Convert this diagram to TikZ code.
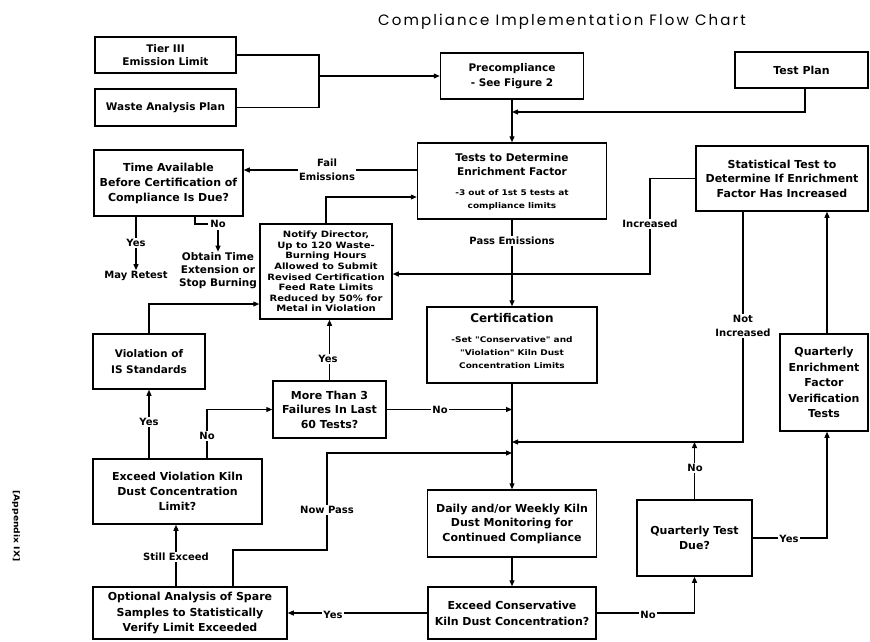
\documentclass[tikz,border=0pt]{standalone}
\usepackage{fontspec}
\setmainfont{DejaVu Sans}
\newfontfamily\smf{DejaVu Sans}[FakeStretch=1.15]
\newfontfamily\ttl{Poppins}[LetterSpace=14]
\usetikzlibrary{arrows.meta}
\tikzset{
  box/.style={draw, line width=1.5pt, rectangle, inner sep=1pt, align=center,
    font=\bfseries\fontsize{11}{14.5}\selectfont},
  conn/.style={line width=1.2pt},
  arr/.style={conn, -{Triangle[length=6pt,width=5pt]}},
  lbl/.style={fill=white, inner sep=1.5pt, align=center, font=\bfseries\fontsize{10}{13.5}\selectfont},
  txt/.style={inner sep=1pt, align=center, font=\bfseries\fontsize{10.5}{13}\selectfont},
  smalltxt/.style={inner sep=0pt, align=center, font=\smf\bfseries\fontsize{7.8}{13}\selectfont},
}
\begin{document}
\begin{tikzpicture}[x=1pt,y=-1pt]
\useasboundingbox (0,0) rectangle (870,641);
% title
\node[font=\ttl\fontsize{15}{18}\selectfont] (title) at (562,22) {Compliance Implementation Flow Chart};
\node[rotate=-90, font=\smf\bfseries\fontsize{8}{10}\selectfont] (appx) at (16,526) {[Appendix IX]};
% boxes
\node[box, minimum width=141pt, minimum height=36pt, font=\bfseries\fontsize{10.5}{12.5}\selectfont] (tier) at (165.5,55) {Tier III\\Emission Limit};
\node[box, minimum width=141pt, minimum height=37pt, font=\bfseries\fontsize{10.5}{12.5}\selectfont] (waste) at (165.5,107.5) {Waste Analysis Plan};
\node[box, minimum width=143pt, minimum height=46pt, font=\bfseries\fontsize{10.5}{15}\selectfont] (pre) at (512,76) {Precompliance\\- See Figure 2};
\node[box, minimum width=133pt, minimum height=36pt] (testplan) at (801.5,70) {Test Plan};
\node[box, minimum width=189pt, minimum height=76pt] (tests) at (512,181) {};
\node[box, minimum width=172pt, minimum height=65pt] (stat) at (782,178.5) {Statistical Test to\\Determine If Enrichment\\Factor Has Increased};
\node[box, minimum width=149pt, minimum height=66pt, font=\bfseries\fontsize{11}{15}\selectfont] (time) at (168.5,183) {Time Available\\Before Certification of\\Compliance Is Due?};
\node[box, minimum width=132pt, minimum height=95pt, font=\smf\bfseries\fontsize{8.7}{10.6}\selectfont] (notify) at (326,271.5) {Notify Director,\\Up to 120 Waste-\\Burning Hours\\Allowed to Submit\\Revised Certification\\Feed Rate Limits\\Reduced by 50\% for\\Metal in Violation};
\node[box, minimum width=170pt, minimum height=76pt] (cert) at (512,345) {};
\node[box, minimum width=112pt, minimum height=55pt, font=\bfseries\fontsize{10.5}{16}\selectfont] (viol) at (149,361.5) {Violation of\\IS Standards};
\node[box, minimum width=113pt, minimum height=57pt] (more) at (329.5,409.5) {More Than 3\\Failures In Last\\60 Tests?};
\node[box, minimum width=88pt, minimum height=97pt, font=\bfseries\fontsize{11}{15.5}\selectfont] (qef) at (824,382.5) {Quarterly\\Enrichment\\Factor\\Verification\\Tests};
\node[box, minimum width=169pt, minimum height=65pt, font=\bfseries\fontsize{11}{15}\selectfont] (excv) at (177.5,491.5) {Exceed Violation Kiln\\Dust Concentration\\Limit?};
\node[box, minimum width=169pt, minimum height=67pt] (daily) at (512,523.5) {Daily and/or Weekly Kiln\\Dust Monitoring for\\Continued Compliance};
\node[box, minimum width=115pt, minimum height=76pt, font=\bfseries\fontsize{11}{15}\selectfont] (qtd) at (694.5,538) {Quarterly Test\\Due?};
\node[box, minimum width=194pt, minimum height=52pt, font=\bfseries\fontsize{11}{15.5}\selectfont] (opt) at (190,613) {Optional Analysis of Spare\\Samples to Statistically\\Verify Limit Exceeded};
\node[box, minimum width=168pt, minimum height=52pt, font=\bfseries\fontsize{11}{16}\selectfont] (excc) at (512,613) {Exceed Conservative\\Kiln Dust Concentration?};
% inner texts of tests and cert
\node[txt, font=\bfseries\fontsize{10.6}{14}\selectfont] (testsA) at (512,165) {Tests to Determine\\Enrichment Factor};
\node[smalltxt] (testsB) at (512,199.5) {-3 out of 1st 5 tests at\\compliance limits};
\node[txt, font=\bfseries\fontsize{12}{14}\selectfont] (certA) at (512,318) {Certification};
\node[smalltxt] (certB) at (512,353) {-Set "Conservative" and\\"Violation" Kiln Dust\\Concentration Limits};
% free texts
\node[txt, font=\bfseries\fontsize{10}{13}\selectfont] (retest) at (136,276) {May Retest};
\node[txt] (obtain) at (218,271) {Obtain Time\\Extension or\\Stop Burning};
\node[txt, font=\bfseries\fontsize{10}{13}\selectfont, inner sep=2pt] (tno) at (218,224) {No};
% coordinates
\coordinate (j1) at (319,76);
\coordinate (tp) at (805,112);
\coordinate (fl) at (300,170);
\coordinate (tn) at (195,224);
\coordinate (ij) at (650,274);
\coordinate (nt) at (326,197);
\coordinate (vn) at (149,304);
\coordinate (en) at (207,411);
\coordinate (ni) at (743,442);
\coordinate (np1) at (233,550);
\coordinate (np2) at (327,453);
\coordinate (se) at (176,560);
\coordinate (qx) at (827,300);
% connectors
\draw[conn] (tier.east) -| (j1);
\draw[conn] (waste.east) -| (j1);
\draw[arr] (j1) -- (pre.west);
\draw[arr] (pre.south) -- (tests.north);
\draw[arr] (testplan.south -| tp) |- (pre.south |- tp);
\draw[arr] (tests.west |- fl) -- (time.east |- fl);
\draw[arr] (tests.south) -- (cert.north);
\draw[arr] (stat.west) -| (ij) -- (notify.east |- ij);
\draw[arr] (notify.north) |- (tests.west |- nt);
\draw[arr] (time.south -| retest) -- (retest.north);
\draw[conn] (time.south -| tn) |- (tno.west);
\draw[arr] (tno.south) -- (obtain.north);
\draw[arr] (viol.north) |- (notify.west |- vn);
\draw[arr] (more.north) -- (more.north |- notify.south);
\draw[arr] (more.east) -- (more.east -| cert.south);
\draw[arr] (excv.north -| viol.south) -- (viol.south);
\draw[arr] (excv.north -| en) |- (more.west);
\draw[arr] (opt.north -| se) -- (excv.south -| se);
\draw[arr] (opt.north -| np1) -- (np1) -| (np2) -- (cert.south |- np2);
\draw[arr] (cert.south) -- (daily.north);
\draw[arr] (daily.south) -- (excc.north);
\draw[arr] (excc.west) -- (opt.east);
\draw[arr] (excc.east) -| (qtd.south);
\draw[arr] (qtd.north) -- (qtd.north |- ni);
\draw[arr] (stat.south -| ni) |- (cert.south |- ni);
\draw[arr] (qtd.east) -| (qef.south -| qx);
\draw[arr] (qef.north -| qx) -- (stat.south -| qx);
% labels
\node[lbl] (lfail) at (327,170) {Fail\\Emissions};
\node[lbl] (lpass) at (512,241) {Pass Emissions};
\node[lbl] (linc) at (650,224) {Increased};
\node[lbl] (lnotinc) at (743,326) {Not\\Increased};
\node[lbl] (lyes1) at (136,243) {Yes};
\node[lbl] (lyes2) at (328,359) {Yes};
\node[lbl] (lno1) at (440,410) {No};
\node[lbl] (lyes3) at (149,422) {Yes};
\node[lbl] (lno2) at (207,436) {No};
\node[lbl] (lstill) at (176,557) {Still Exceed};
\node[lbl] (lnow) at (327,510) {Now Pass};
\node[lbl] (lyes4) at (333,615) {Yes};
\node[lbl] (lno3) at (648,615) {No};
\node[lbl] (lno4) at (695,468) {No};
\node[lbl] (lyes5) at (789,539) {Yes};
\end{tikzpicture}
\end{document}
